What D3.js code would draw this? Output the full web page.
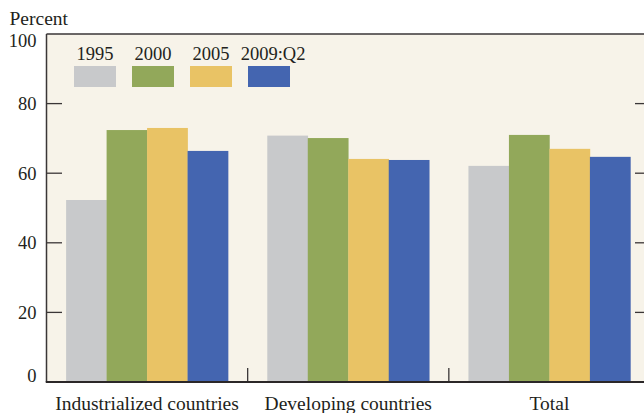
<!DOCTYPE html>
<html><head><meta charset="utf-8">
<script src="https://cdn.jsdelivr.net/npm/d3@7"></script>
<style>
html,body{margin:0;padding:0;background:#fff;}
svg{display:block;}
text{font-family:"Liberation Serif","DejaVu Serif",serif;fill:#231F20;}
</style></head>
<body>
<svg id="chart" width="644" height="413"></svg>
<script>
const categories = ["Industrialized countries", "Developing countries", "Total"];
const seriesNames = ["1995", "2000", "2005", "2009:Q2"];
const colors = ["#C8C9CB", "#92A85A", "#E9C365", "#4465B0"];
const v1995 = [52.3, 70.8, 62.1];
const v2000 = [72.4, 70.1, 71.0];
const v2005 = [73.0, 64.1, 67.0];
const v2009 = [66.4, 63.8, 64.7];
const yTicks = [0, 20, 40, 60, 80, 100];
const seriesValues = [v1995, v2000, v2005, v2009];

(function () {
const svg = d3.select("#chart");
const pL = 46.5, pR = 650, pT = 34, pB = 382;

const y = d3.scaleLinear().domain([0, 100]).range([pB, pT]);
const x0 = d3.scaleBand().domain(categories).range([pL, pR]).paddingInner(0.195).paddingOuter(0.0975);
const x1 = d3.scaleBand().domain(seriesNames).range([0, x0.bandwidth()]).padding(0);

// plot background
svg.append("rect").attr("x", pL).attr("y", pT).attr("width", pR - pL).attr("height", pB - pT).attr("fill", "#F7F3E9");

// bars
const groups = svg.append("g").selectAll("g").data(categories).join("g")
  .attr("transform", d => `translate(${x0(d)},0)`);
groups.selectAll("rect")
  .data((c, ci) => seriesNames.map((s, si) => ({s, si, v: seriesValues[si][ci]})))
  .join("rect")
  .attr("x", d => x1(d.s))
  .attr("y", d => y(d.v))
  .attr("width", x1.bandwidth() + 0.3)
  .attr("height", d => y(0) - y(d.v))
  .attr("fill", d => colors[d.si]);

// frame
const stroke = "#3a3637";
svg.append("line").attr("x1", pL).attr("x2", pL).attr("y1", pT).attr("y2", pB).attr("stroke", stroke).attr("stroke-width", 1.5);
svg.append("line").attr("x1", pL).attr("x2", pR).attr("y1", pT).attr("y2", pT).attr("stroke", stroke).attr("stroke-width", 1.5);

// y ticks inside left and right
const inner = yTicks.filter(t => t > 0 && t < 100);
svg.append("g").selectAll("line").data(inner).join("line")
  .attr("x1", pL).attr("x2", pL + 15.5).attr("y1", d => y(d)).attr("y2", d => y(d))
  .attr("stroke", stroke).attr("stroke-width", 1.3);
svg.append("g").selectAll("line").data(inner).join("line")
  .attr("x1", pR - 15).attr("x2", pR).attr("y1", d => y(d)).attr("y2", d => y(d))
  .attr("stroke", stroke).attr("stroke-width", 1.3);

// y labels
svg.append("g").selectAll("text").data(yTicks).join("text")
  .attr("x", 36.5)
  .attr("y", d => y(d) + (d === 100 ? 7 : d === 0 ? -6 : 0))
  .attr("dy", "0.35em")
  .attr("text-anchor", "end")
  .attr("font-size", 18.5)
  .text(d => d);

svg.append("text").attr("x", 9.5).attr("y", 25).attr("font-size", 19.5).text("Percent");

// category separators
const seps = categories.slice(1).map(c => x0(c) - x0.step() * x0.paddingInner() / 2);
svg.append("g").selectAll("line").data(seps).join("line")
  .attr("x1", d => d).attr("x2", d => d).attr("y1", pB - 14).attr("y2", pB)
  .attr("stroke", stroke).attr("stroke-width", 1.3);

// baseline
svg.append("line").attr("x1", pL - 0.75).attr("x2", pR).attr("y1", pB).attr("y2", pB).attr("stroke", "#2b2728").attr("stroke-width", 2);

// category labels
svg.append("g").selectAll("text").data(categories).join("text")
  .attr("x", d => x0(d) + x0.bandwidth() / 2)
  .attr("y", 410)
  .attr("text-anchor", "middle")
  .attr("font-size", 19.5)
  .text(d => d);

// legend
const legX = d3.scalePoint().domain(seriesNames).range([95, 269]);
const leg = svg.append("g").selectAll("g").data(seriesNames).join("g");
leg.append("rect")
  .attr("x", d => legX(d) - 21).attr("y", 66).attr("width", 42).attr("height", 21)
  .attr("fill", (d, i) => colors[i]);
leg.append("text")
  .attr("x", (d, i) => legX(d) + (i === 3 ? 4 : 0))
  .attr("y", 60)
  .attr("text-anchor", "middle")
  .attr("font-size", 18.5)
  .text(d => d);
})();
</script>
</body></html>
